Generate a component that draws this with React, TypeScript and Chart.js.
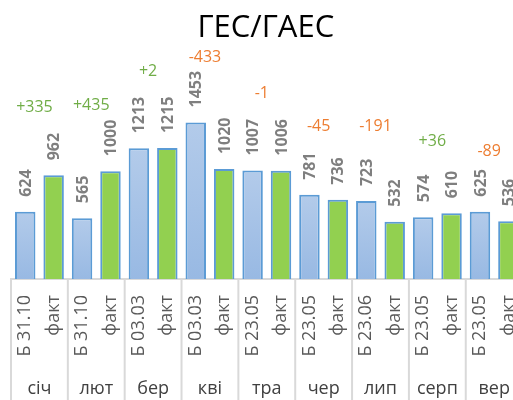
import React, { useEffect, useRef } from "react";
import { Chart, registerables } from "chart.js";

Chart.register(...registerables);

const title = "ГЕС/ГАЕС";
const tickLabels = [
  "Б 31.10", "факт", "Б 31.10", "факт", "Б 03.03", "факт", "Б 03.03", "факт",
  "Б 23.05", "факт", "Б 23.05", "факт", "Б 23.06", "факт", "Б 23.05", "факт",
  "Б 23.05", "факт",
];
const months = ["січ", "лют", "бер", "кві", "тра", "чер", "лип", "серп", "вер"];
const values = [624, 962, 565, 1000, 1213, 1215, 1453, 1020, 1007, 1006, 781, 736, 723, 532, 574, 610, 625, 536];
const diffs = [335, 435, 2, -433, -1, -45, -191, 36, -89];
// level (in data units) of the invisible series carrying the difference labels
const diffAnchor = [1588, 1609, 1928, 2059, 1727, 1417, 1417, 1277, 1184];

const FONT = "'Open Sans', 'Noto Sans', sans-serif";

const overlay = {
  id: "overlay",
  afterDatasetsDraw(chart: any) {
    const { ctx, chartArea, scales } = chart;
    const meta = chart.getDatasetMeta(0);
    const xs = scales.x;
    const ys = scales.y;
    ctx.save();
    // title
    ctx.fillStyle = "#000000";
    ctx.font = `31px ${FONT}`;
    ctx.textAlign = "center";
    ctx.textBaseline = "alphabetic";
    ctx.fillText(title, (chartArea.left + chartArea.right) / 2 - 1, 37);

    // value labels
    ctx.fillStyle = "#7f7f7f";
    ctx.font = `bold 16px ${FONT}`;
    meta.data.forEach((bar: any, i: number) => {
      ctx.save();
      ctx.translate(bar.x, bar.y - 15);
      ctx.rotate(-Math.PI / 2);
      ctx.textAlign = "left";
      ctx.textBaseline = "middle";
      ctx.fillText(String(values[i]), 0, 1);
      ctx.restore();
    });

    // difference labels
    ctx.font = `16px ${FONT}`;
    ctx.textAlign = "center";
    ctx.textBaseline = "middle";
    diffs.forEach((d, g) => {
      const a = meta.data[2 * g];
      const b = meta.data[2 * g + 1];
      if (!a || !b) return;
      const x = (a.x + b.x) / 2 - 5;
      const y = ys.getPixelForValue(diffAnchor[g]);
      ctx.fillStyle = d >= 0 ? "#70ad47" : "#ed7d31";
      ctx.fillText((d >= 0 ? "+" : "") + d, x, y);
    });

    // group separators and month labels
    const catW = xs.getPixelForValue(1) - xs.getPixelForValue(0);
    ctx.strokeStyle = "#d9d9d9";
    ctx.lineWidth = 2;
    for (let g = 0; g <= months.length; g++) {
      const x = xs.getPixelForValue(2 * g) - catW / 2;
      ctx.beginPath();
      ctx.moveTo(x, chartArea.bottom);
      ctx.lineTo(x, chart.height);
      ctx.stroke();
    }
    ctx.fillStyle = "#404040";
    ctx.font = `18px ${FONT}`;
    ctx.textAlign = "center";
    ctx.textBaseline = "middle";
    months.forEach((m, g) => {
      const x = (xs.getPixelForValue(2 * g) + xs.getPixelForValue(2 * g + 1)) / 2;
      ctx.fillText(m, x, 389);
    });
    ctx.restore();
  },
};

export default function App() {
  const ref = useRef<HTMLCanvasElement | null>(null);
  useEffect(() => {
    if (!ref.current) return;
    const chart = new Chart(ref.current, {
      type: "bar",
      data: {
        labels: tickLabels,
        datasets: [
          {
            data: values,
            backgroundColor: (c: any) => {
              const i = c.dataIndex;
              if (i % 2 === 1) return "#92d050";
              const ch = c.chart;
              const ys = ch.scales && ch.scales.y;
              if (!ys || !ch.chartArea) return "#a6c3e8";
              const top = ys.getPixelForValue(values[i]);
              const bot = ys.getPixelForValue(0);
              if (!isFinite(top) || !isFinite(bot)) return "#a6c3e8";
              const gr = ch.ctx.createLinearGradient(0, top, 0, bot);
              gr.addColorStop(0, "#b3cbea");
              gr.addColorStop(1, "#98b9e3");
              return gr;
            },
            borderColor: "#5b9bd5",
            borderWidth: 2,
            borderSkipped: "bottom",
            barPercentage: 0.72,
            categoryPercentage: 1,
          },
        ],
      },
      options: {
        animation: false,
        responsive: true,
        maintainAspectRatio: false,
        layout: { padding: { left: 11, right: 0, top: 42, bottom: 0 } },
        plugins: { legend: { display: false }, title: { display: false }, tooltip: { enabled: false } },
        scales: {
          y: { display: false, min: 0, max: 2200 },
          x: {
            afterFit: (s: any) => {
              s.height = 121;
            },
            grid: { display: false, drawTicks: false },
            border: { display: true, color: "#d9d9d9", width: 2 },
            ticks: {
              autoSkip: false,
              minRotation: 90,
              maxRotation: 90,
              padding: 16,
              color: "#595959",
              font: { family: FONT, size: 18 },
            },
          },
        },
      },
      plugins: [overlay],
    });
    return () => chart.destroy();
  }, []);
  return (
    <div style={{ position: "fixed", left: 0, top: 0, width: 513, height: 400, overflow: "hidden", background: "#fff" }}>
      <div style={{ position: "relative", width: 546, height: 400 }}>
        <canvas ref={ref} />
      </div>
    </div>
  );
}
